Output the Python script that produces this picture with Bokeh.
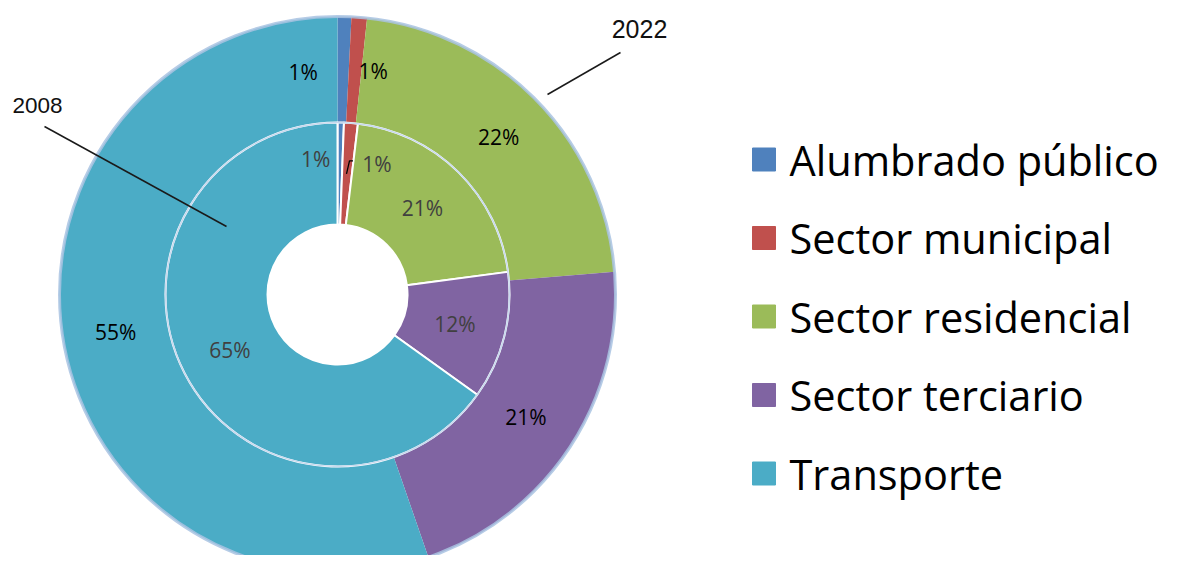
import numpy as np
from bokeh.plotting import figure
from bokeh.models import Range1d, ColumnDataSource
from bokeh.core.properties import value
from bokeh.embed import file_html
from bokeh.resources import INLINE

# ---- data ----
categories = ["Alumbrado público", "Sector municipal", "Sector residencial",
              "Sector terciario", "Transporte"]
colors = ["#4F81BD", "#C0504D", "#9BBB59", "#8064A2", "#4BACC6"]
values_2022 = [0.8, 0.9, 22.0, 21.0, 55.3]   # outer ring
values_2008 = [0.6, 1.3, 21.0, 12.0, 65.1]   # inner ring
ring_names = ["2008", "2022"]

# ---- geometry (screen-pixel data space, y up) ----
W, H = 1164, 555
CX, CY = 337, 571 - 294
R_OUT, R_MID, R_HOLE = 278, 172, 70

p = figure(width=W, height=H, output_backend="svg", toolbar_location=None,
           x_range=Range1d(0, W), y_range=Range1d(571 - H, 571),
           min_border=0)
p.axis.visible = False
p.grid.visible = False
p.outline_line_color = None
p.background_fill_color = "white"
p.border_fill_color = "white"


def ring(vals, r_in, r_out, line_color, line_width):
    v = np.array(vals, dtype=float)
    frac = v / v.sum()
    cum = np.concatenate([[0], np.cumsum(frac)])
    start = np.pi / 2 - cum[:-1] * 2 * np.pi
    end = np.pi / 2 - cum[1:] * 2 * np.pi
    src = ColumnDataSource(dict(start=start, end=end, color=colors))
    p.annular_wedge(x=CX, y=CY, inner_radius=r_in, outer_radius=r_out,
                    start_angle="start", end_angle="end", direction="clock",
                    fill_color="color", line_color=line_color,
                    line_width=line_width, source=src)
    mid = (cum[:-1] + cum[1:]) / 2 * 2 * np.pi
    rm = (r_in + r_out) / 2
    return CX + rm * np.sin(mid), CY + rm * np.cos(mid), frac


# outer ring 2022
ox, oy, ofrac = ring(values_2022, R_MID, R_OUT, None, 0)
# inner ring 2008
ix, iy, ifrac = ring(values_2008, R_HOLE, R_MID, "white", 2)

# rims
p.circle(x=CX, y=CY, radius=R_OUT, fill_color=None, line_color="#a9c3e2",
         line_width=3, line_alpha=0.85)
p.circle(x=CX, y=CY, radius=R_MID, fill_color=None, line_color="#c8d9ee",
         line_width=1.5)

# labels (offsets for the tiny slices, in pixels)
out_dx = [-40, 18, 0, 0, 0]
out_dy = [-2, -1, 0, 0, 0]
in_dx = [-24, 30, 0, 0, 0]
in_dy = [15, 10, 0, 0, 0]

out_lbl = ColumnDataSource(dict(
    x=ox + np.array(out_dx), y=oy + np.array(out_dy),
    t=[f"{round(v)}%" for v in values_2022]))
in_lbl = ColumnDataSource(dict(
    x=ix + np.array(in_dx), y=iy + np.array(in_dy),
    t=[f"{round(v)}%" for v in values_2008]))
p.text(x="x", y="y", text="t", source=out_lbl, text_align="center",
       text_baseline="middle", text_font=value("Open Sans"),
       text_font_size="21px", text_color="#000000")
p.text(x="x", y="y", text="t", source=in_lbl, text_align="center",
       text_baseline="middle", text_font=value("Open Sans"),
       text_font_size="21px", text_color="#404040")

# leader for inner municipal label
p.line(x=[ix[1] - 0.5, ix[1] + 2.5, ix[1] + 6], y=[iy[1], iy[1] + 13, iy[1] + 13],
       line_color="black", line_width=1.3)

# ring-name callouts
p.line(x=[44, 226], y=[571 - 126, 571 - 226], line_color="#1a1a1a", line_width=1.5)
p.text(x=[37], y=[571 - 105], text=[ring_names[0]], text_align="center",
       text_baseline="middle", text_font=value("Liberation Sans"),
       text_font_size="22.5px", text_color="#111111")
p.line(x=[620, 547], y=[571 - 52, 571 - 94], line_color="#1a1a1a", line_width=1.5)
p.text(x=[639], y=[571 - 28], text=[ring_names[1]], text_align="center",
       text_baseline="middle", text_font=value("Liberation Sans"),
       text_font_size="25px", text_color="#111111")

# legend
leg_y = 571 - (159 + 78.5 * np.arange(len(categories)))
p.rect(x=[763.5] * len(categories), y=leg_y, width=23, height=23,
       fill_color=colors, line_color=colors)
p.text(x=[789] * len(categories), y=leg_y, text=categories, text_align="left",
       text_baseline="middle", text_font=value("Open Sans"),
       text_font_size="41.5px", text_color="#000000")

open("out.html", "w").write(file_html(p, INLINE))
